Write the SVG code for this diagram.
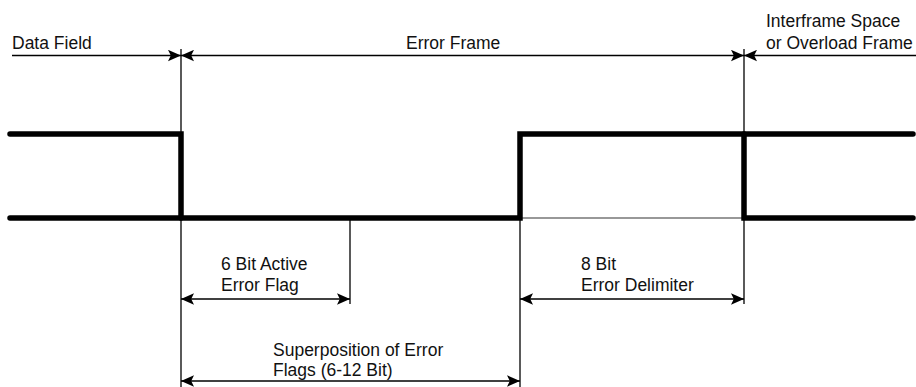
<svg xmlns="http://www.w3.org/2000/svg" width="916" height="387" viewBox="0 0 916 387">
<style>
text{font-family:"Liberation Sans",Arial,sans-serif;font-size:17.5px;fill:#111}
.thin{stroke:#000;stroke-width:1.3;fill:none}
.sig{stroke:#000;stroke-width:5.5;fill:none;stroke-linecap:round;stroke-linejoin:miter}
.dim{stroke:#000;stroke-width:1.3;fill:none;marker-end:url(#ah)}
.dim2{stroke:#000;stroke-width:1.3;fill:none;marker-start:url(#ah);marker-end:url(#ah)}
</style>
<defs>
<marker id="ah" viewBox="0 0 13 12" refX="13" refY="6" markerWidth="13" markerHeight="12" orient="auto-start-reverse" markerUnits="userSpaceOnUse">
<path d="M0,0.3 L13,6 L0,11.7 L2.8,6 z" fill="#000"/>
</marker>
</defs>
<g id="guides">
<line class="thin" x1="181" y1="49" x2="181" y2="387"/>
<line class="thin" x1="744" y1="49" x2="744" y2="304"/>
<line class="thin" x1="520" y1="218" x2="520" y2="387"/>
<line class="thin" x1="350" y1="218" x2="350" y2="304"/>
<line stroke="#333" stroke-width="1.2" x1="520" y1="218" x2="744" y2="218"/>
</g>
<g id="signal">
<path class="sig" d="M10,134 H181 V218"/>
<path class="sig" d="M10,218 H520 V134 H913"/>
<path class="sig" d="M744,134 V218 H913"/>
</g>
<g id="connectors">
<line class="dim" x1="12" y1="55.5" x2="181" y2="55.5"/>
<line class="dim2" x1="181" y1="55.5" x2="744" y2="55.5"/>
<line class="dim" x1="916" y1="55.5" x2="744" y2="55.5"/>
<line class="dim2" x1="181" y1="299" x2="350" y2="299"/>
<line class="dim2" x1="520" y1="299" x2="744" y2="299"/>
<line class="dim2" x1="181" y1="381" x2="520" y2="381"/>
</g>
<g id="label-data-field"><text x="12" y="49">Data Field</text></g>
<g id="label-error-frame"><text x="406" y="49">Error Frame</text></g>
<g id="label-interframe"><text x="766" y="26.5">Interframe Space</text><text x="766" y="49">or Overload Frame</text></g>
<g id="label-active-flag"><text x="221" y="270">6 Bit Active</text><text x="221" y="291">Error Flag</text></g>
<g id="label-delimiter"><text x="581" y="270">8 Bit</text><text x="581" y="291">Error Delimiter</text></g>
<g id="label-superposition"><text x="273" y="356">Superposition of Error</text><text x="273" y="376">Flags (6-12 Bit)</text></g>
</svg>
